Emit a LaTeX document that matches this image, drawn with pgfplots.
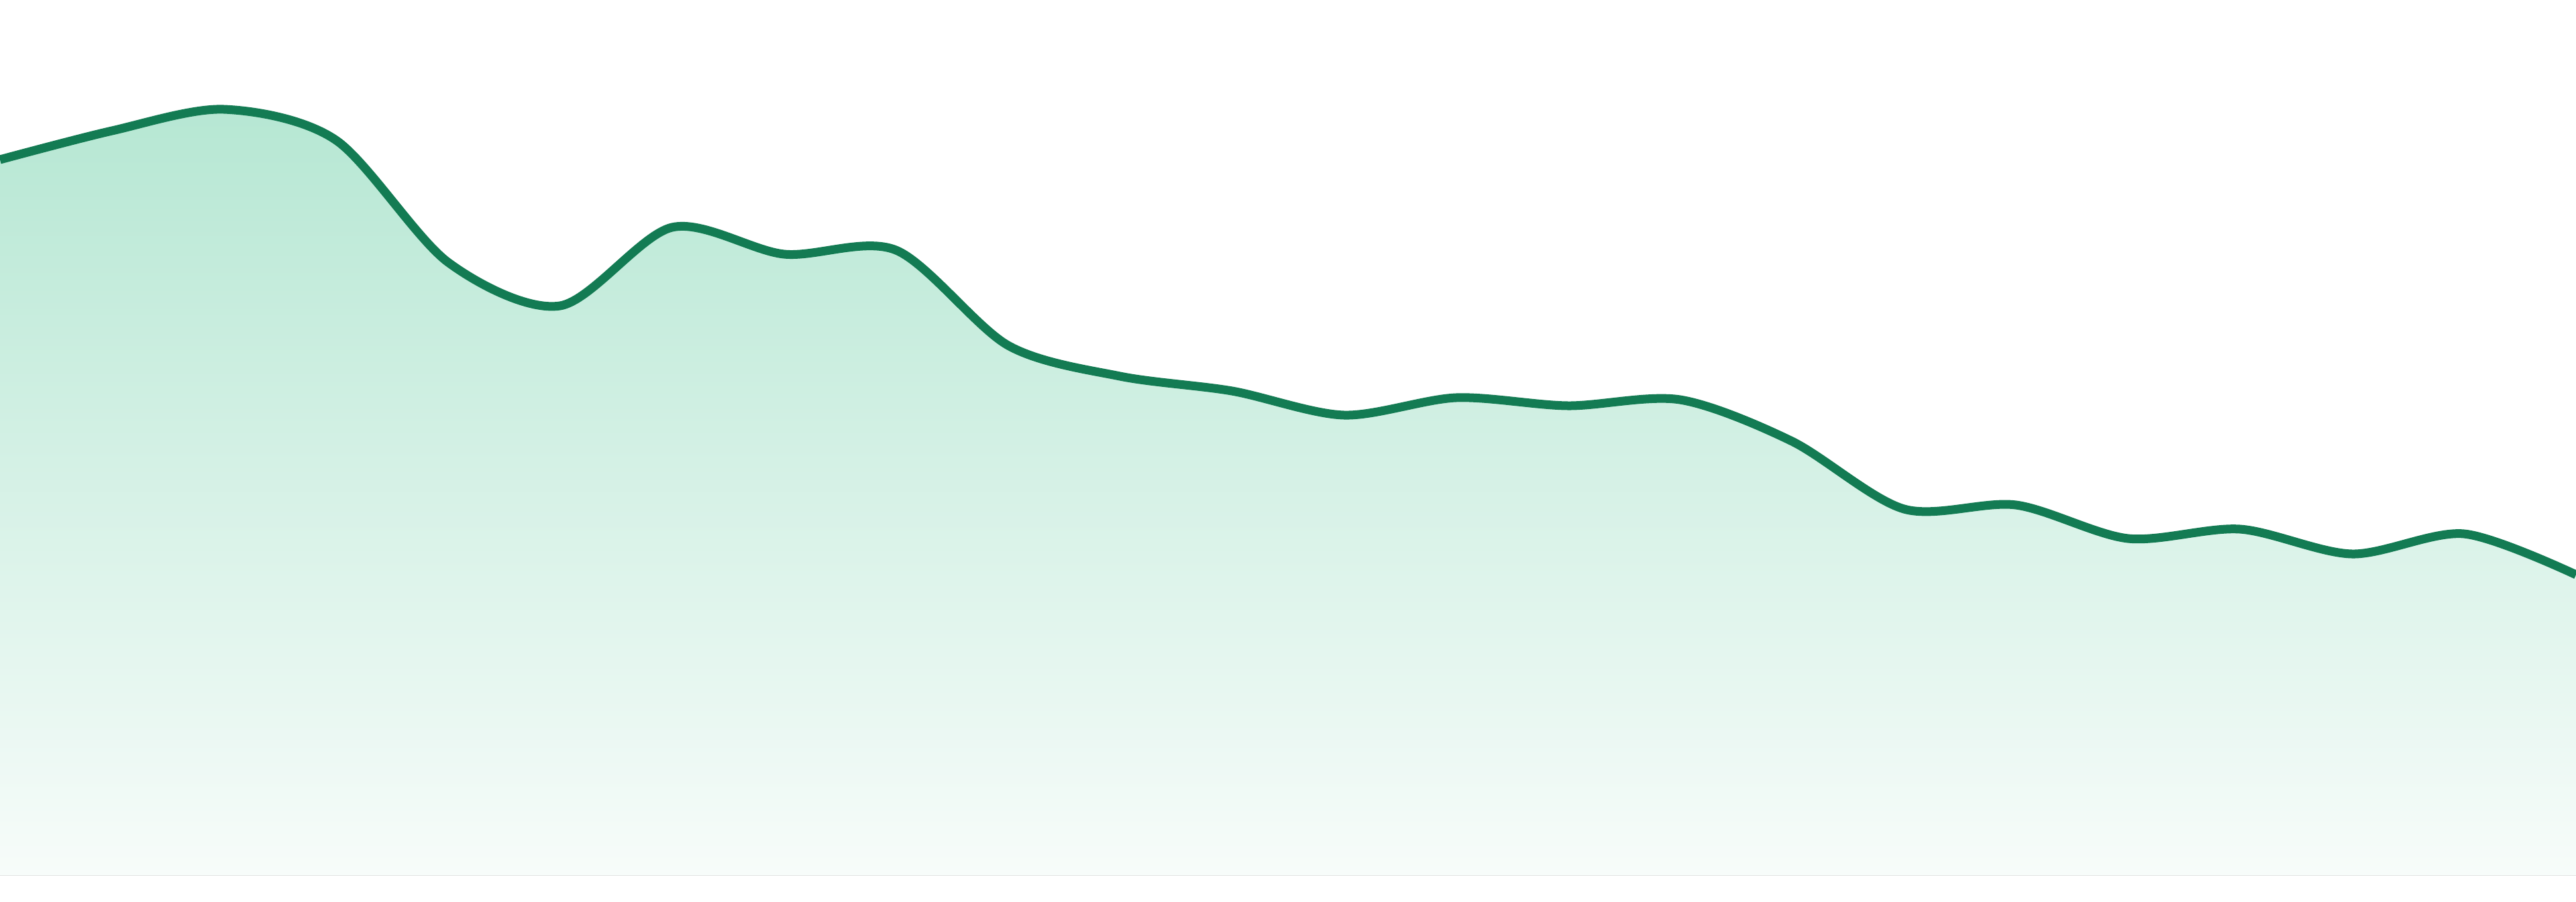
\documentclass[border=0pt]{standalone}
\usepackage{pgfplots}
\pgfplotsset{compat=1.18}
\usepgfplotslibrary{fillbetween}

\definecolor{lineGreen}{HTML}{137B53}
\definecolor{fillTop}{HTML}{B6E7D3}
\definecolor{fillBot}{HTML}{F7FCFA}

\begin{document}
\begin{tikzpicture}
\begin{axis}[
	scale only axis,
	width=19.2cm, height=6.72cm,
	hide axis,
	xmin=0, xmax=23,
	ymin=-39, ymax=1305,
	clip=true,
	]

% the line itself
	\addplot[
	name path=curve,
	color=lineGreen,
	line width=1.85pt,
	smooth, tension=0.5,
	mark=none,
	] coordinates {
	(0,1067) (1,1110) (2,1142) (3,1096) (4,914) (5,849)
	(6,966) (7,926) (8,932) (9,790) (10,744) (11,722)
	(12,686) (13,712) (14,700) (15,709) (16,647) (17,546)
	(18,552) (19,502) (20,516) (21,479) (22,509) (23,448)
	};

% baseline of the area
	\addplot[name path=base, draw=none] coordinates {(0,0) (23,0)};

% area under the curve, fading downwards
	\addplot[top color=fillTop, bottom color=fillBot]
	fill between[of=curve and base];

\end{axis}
\pgfresetboundingbox
\path[use as bounding box] (current axis.south west) rectangle (current axis.north east);
\end{tikzpicture}
\end{document}
